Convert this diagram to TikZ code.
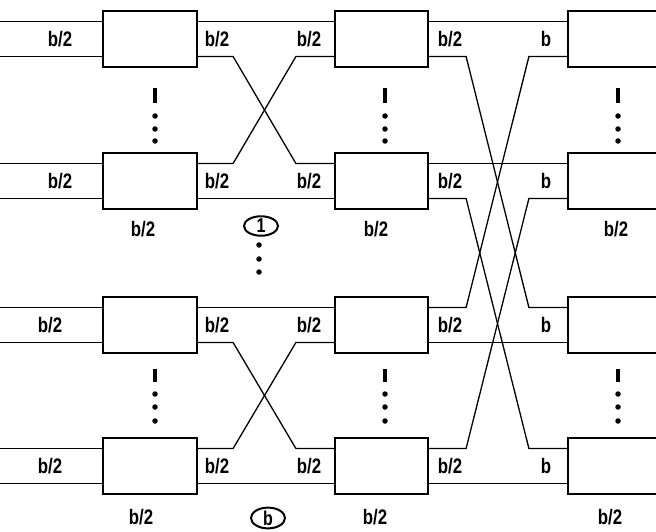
\documentclass[tikz,border=0pt]{standalone}
\usepackage{fontspec}
\newfontfamily\labfont[FakeStretch=0.8]{Liberation Sans}
\usetikzlibrary{calc,shapes.geometric}
\begin{document}
\begin{tikzpicture}[x=1pt,y=-1pt,
  blk/.style={draw, line width=2.2pt, minimum height=56pt, inner sep=0pt},
  wire/.style={line width=1.3pt},
  lab/.style={font=\labfont\bfseries\fontsize{21}{21}\selectfont, inner sep=0pt},
  grp/.style={ellipse, draw, line width=2pt, inner sep=0pt, minimum width=34pt, minimum height=17pt, font=\labfont\bfseries\fontsize{20}{20}\selectfont},
  vbar/.style={line width=3.2pt},
  vdot/.style={circle, fill, inner sep=0pt, minimum size=5.5pt}]
\useasboundingbox (0,0) rectangle (656,532);
\clip (0,0) rectangle (656,532);
\coordinate (O) at (0,0);
% boxes
\foreach \r/\y in {1/39,2/181,3/325,4/466}{
  \node[blk, minimum width=94pt] (a\r) at (150,\y) {};
  \node[blk, minimum width=93pt] (b\r) at (381.5,\y) {};
  \node[blk, minimum width=120pt] (c\r) at (628,\y) {};
}
\foreach \n in {a1,a2,a3,a4,b1,b2,b3,b4,c1,c2,c3,c4}{
  \coordinate (\n-et) at ($(\n.east)+(0,-17.5)$);
  \coordinate (\n-eb) at ($(\n.east)+(0,17.5)$);
  \coordinate (\n-wt) at ($(\n.west)+(0,-17.5)$);
  \coordinate (\n-wb) at ($(\n.west)+(0,17.5)$);
}
% inputs
\foreach \n in {a1,a2,a3,a4}{
  \draw[wire] (\n-wt -| O) -- (\n-wt);
  \draw[wire] (\n-wb -| O) -- (\n-wb);
}
% stage a -> b
\foreach \p/\q in {1/2,3/4}{
  \draw[wire] (a\p-et) -- (b\p-wt);
  \draw[wire] (a\p-eb) -- ++(35,0) -- ($(b\q-wt)+(-38,0)$) -- (b\q-wt);
  \draw[wire] (a\q-et) -- ++(35,0) -- ($(b\p-wb)+(-38,0)$) -- (b\p-wb);
  \draw[wire] (a\q-eb) -- (b\q-wb);
}
% stage b -> c
\draw[wire] (b1-et) -- (c1-wt);
\draw[wire] (b1-eb) -- ++(37,0) -- ($(c3-wt)+(-38,0)$) -- (c3-wt);
\draw[wire] (b2-et) -- (c2-wt);
\draw[wire] (b2-eb) -- ++(37,0) -- ($(c4-wt)+(-38,0)$) -- (c4-wt);
\draw[wire] (b3-et) -- ++(37,0) -- ($(c1-wb)+(-38,0)$) -- (c1-wb);
\draw[wire] (b3-eb) -- (c3-wb);
\draw[wire] (b4-et) -- ++(37,0) -- ($(c2-wb)+(-38,0)$) -- (c2-wb);
\draw[wire] (b4-eb) -- (c4-wb);
% labels on lines
\foreach \r/\y/\lx in {1/39/60,2/181/60,3/325/50,4/466/50}{
  \node[lab] (li\r) at (\lx,\y) {b/2};
  \node[lab] (la\r) at (217,\y) {b/2};
  \node[lab] (lb\r) at (309,\y) {b/2};
  \node[lab] (lc\r) at (450,\y) {b/2};
  \node[lab] (ld\r) at (546,\y) {b};
}
% labels below boxes
\node[lab] (ua) at (143,229) {b/2};
\node[lab] (ub) at (376,229) {b/2};
\node[lab] (uc) at (616,229) {b/2};
\node[lab] (da) at (141,517) {b/2};
\node[lab] (db) at (375,517) {b/2};
\node[lab] (dc) at (610,517) {b/2};
% group marks
\node[grp] (g1) at (261,226) {1};
\node[grp] (gb) at (268,518) {b};
\foreach \yy in {245,259,272}{ \node[vdot] at (259,\yy) {}; }
% vertical ellipses
\foreach \xx in {155,385,618}{
  \draw[vbar] (\xx,88) -- (\xx,103);
  \foreach \yy in {116,129,141}{ \node[vdot] at (\xx,\yy) {}; }
  \draw[vbar] (\xx,369) -- (\xx,382);
  \foreach \yy in {394,407,421}{ \node[vdot] at (\xx,\yy) {}; }
}
\end{tikzpicture}
\end{document}
